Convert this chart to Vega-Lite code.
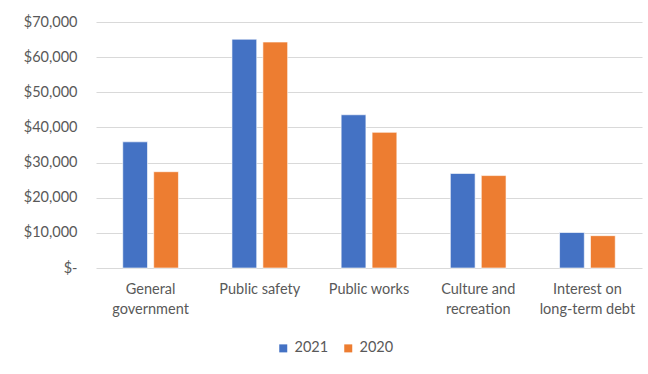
{
  "$schema": "https://vega.github.io/schema/vega-lite/v6.json",
  "width": 546,
  "height": 246,
  "autosize": {"type": "none"},
  "padding": {"left": 96, "top": 22, "right": 6, "bottom": 106},
  "background": "white",
  "data": {
    "values": [
      {"category": "General government", "year": "2021", "amount": 35900},
      {"category": "General government", "year": "2020", "amount": 27400},
      {"category": "Public safety", "year": "2021", "amount": 65100},
      {"category": "Public safety", "year": "2020", "amount": 64300},
      {"category": "Public works", "year": "2021", "amount": 43600},
      {"category": "Public works", "year": "2020", "amount": 38600},
      {"category": "Culture and recreation", "year": "2021", "amount": 26900},
      {"category": "Culture and recreation", "year": "2020", "amount": 26300},
      {"category": "Interest on long-term debt", "year": "2021", "amount": 10100},
      {"category": "Interest on long-term debt", "year": "2020", "amount": 9200}
    ]
  },
  "mark": {"type": "bar", "stroke": "white", "strokeOpacity": 0.6, "strokeWidth": 1},
  "encoding": {
    "x": {
      "field": "category",
      "type": "nominal",
      "sort": null,
      "scale": {"paddingInner": 0.49, "paddingOuter": 0.245},
      "axis": {
        "title": null,
        "labelAngle": 0,
        "ticks": false,
        "domain": false,
        "labelPadding": 14,
        "labelFont": "Lato",
        "labelFontSize": 14.5,
        "labelColor": "#595959",
        "labelLineHeight": 20,
        "labelExpr": "datum.label == 'General government' ? ['General', 'government'] : datum.label == 'Culture and recreation' ? ['Culture and', 'recreation'] : datum.label == 'Interest on long-term debt' ? ['Interest on', 'long-term debt'] : datum.label"
      }
    },
    "xOffset": {
      "field": "year",
      "type": "nominal",
      "sort": ["2021", "2020"],
      "scale": {"paddingInner": 0.2, "paddingOuter": 0}
    },
    "y": {
      "field": "amount",
      "type": "quantitative",
      "scale": {"domain": [0, 70000], "nice": false},
      "axis": {
        "title": null,
        "values": [0, 10000, 20000, 30000, 40000, 50000, 60000, 70000],
        "ticks": false,
        "domain": false,
        "grid": true,
        "gridColor": "#D9D9D9",
        "gridWidth": 1,
        "labelPadding": 19,
        "labelFont": "Lato",
        "labelFontSize": 14.5,
        "labelColor": "#595959",
        "labelExpr": "datum.value == 0 ? '$-\u00a0\u00a0' : '$' + format(datum.value, ',')"
      }
    },
    "color": {
      "field": "year",
      "type": "nominal",
      "sort": ["2021", "2020"],
      "scale": {"domain": ["2021", "2020"], "range": ["#4472C4", "#ED7D31"]},
      "legend": {
        "title": null,
        "orient": "none",
        "direction": "horizontal",
        "legendX": 180,
        "legendY": 319,
        "symbolType": "square",
        "symbolSize": 64,
        "symbolStrokeWidth": 0,
        "labelFont": "Lato",
        "labelFontSize": 14.5,
        "labelColor": "#595959",
        "columnPadding": 12,
        "labelOffset": 4
      }
    }
  },
  "config": {"view": {"stroke": null}}
}
